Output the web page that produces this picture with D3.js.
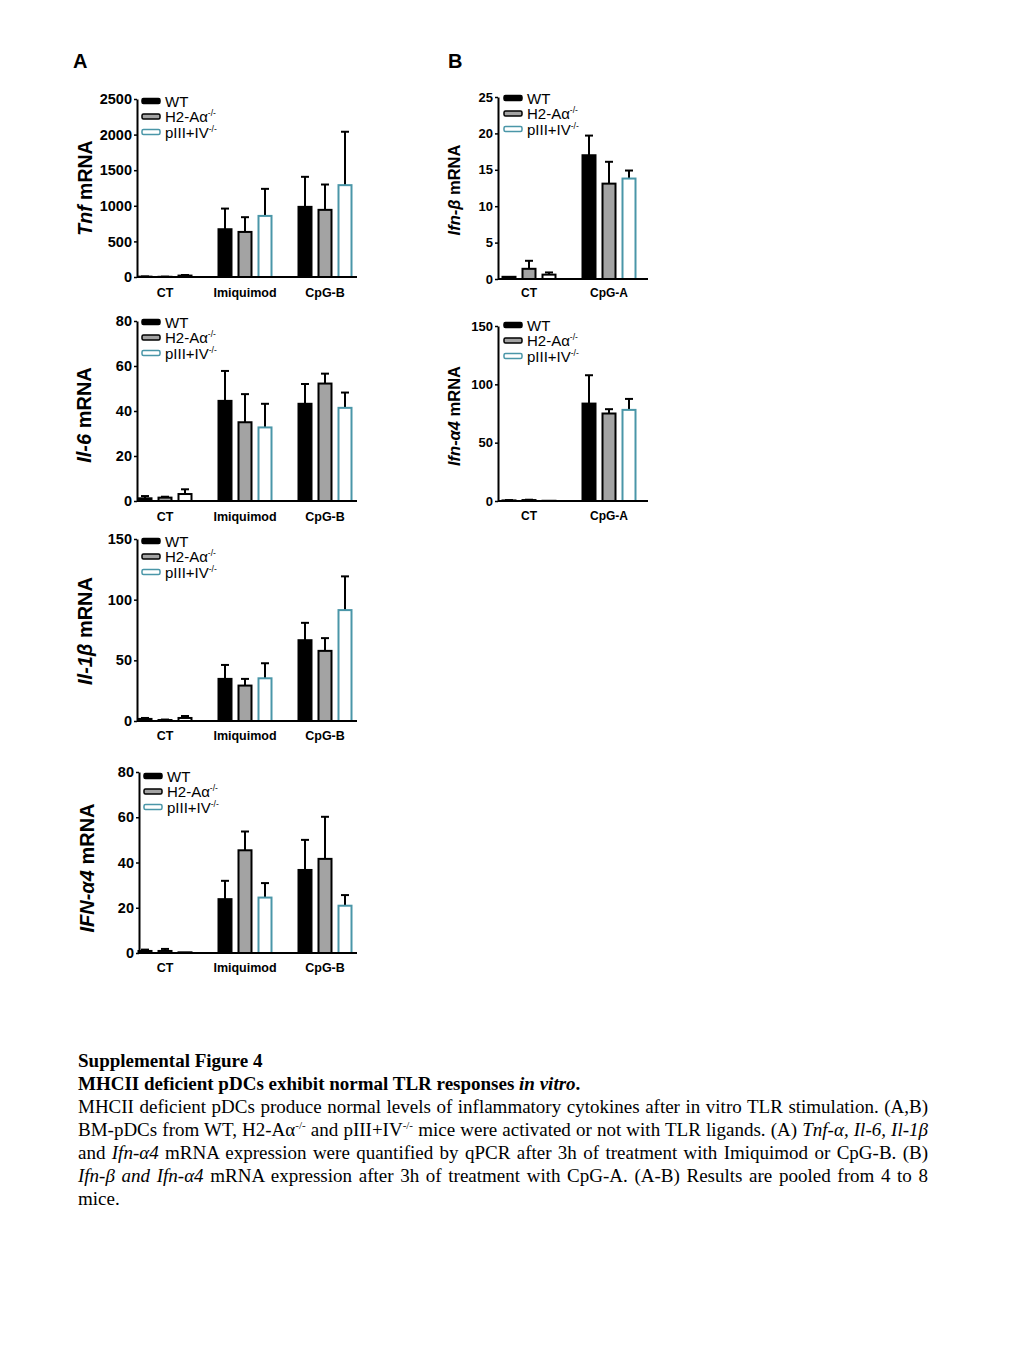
<!DOCTYPE html>
<html><head><meta charset="utf-8">
<script src="https://cdn.jsdelivr.net/npm/d3@7"></script>
<style>
body{margin:0;background:#fff;}
#wrap{position:relative;width:1024px;height:1365px;background:#fff;}
svg{position:absolute;left:0;top:0}
#cap{position:absolute;left:78px;top:1049px;width:850px;font-family:"Liberation Serif","Times New Roman",serif;font-size:19px;line-height:23px;color:#000}
#cap .l{white-space:nowrap;text-align:justify;text-align-last:justify}
#cap .last{white-space:nowrap;text-align:left}
#cap sup{font-size:11px;vertical-align:7px;line-height:0}
</style></head><body>
<div id="wrap">
<svg id="chart" width="1024" height="1365"></svg>
<div id="cap">
<div class="last"><b>Supplemental Figure 4</b></div>
<div class="last"><b>MHCII deficient pDCs exhibit normal TLR responses <i>in vitro</i>.</b></div>
<div class="l">MHCII deficient pDCs produce normal levels of inflammatory cytokines after in vitro TLR stimulation. (A,B)</div>
<div class="l">BM-pDCs from WT, H2-Aα<sup>-/-</sup> and pIII+IV<sup>-/-</sup> mice were activated or not with TLR ligands. (A) <i>Tnf-α, Il-6, Il-1β</i></div>
<div class="l">and <i>Ifn-α4</i> mRNA expression were quantified by qPCR after 3h of treatment with Imiquimod or CpG-B. (B)</div>
<div class="l"><i>Ifn-β and Ifn-α4</i> mRNA expression after 3h of treatment with CpG-A. (A-B) Results are pooled from 4 to 8</div>
<div class="last">mice.</div>
</div>
</div>
<script>
// ---------- DATA ----------
const seriesNames = ["WT", "H2-Aα", "pIII+IV"];
const groupsA = ["CT", "Imiquimod", "CpG-B"];
const groupsB = ["CT", "CpG-A"];

const ticksTnf = [0, 500, 1000, 1500, 2000, 2500];
const ticks80 = [0, 20, 40, 60, 80];
const ticks150 = [0, 50, 100, 150];
const ticks25 = [0, 5, 10, 15, 20, 25];

// Tnf (A)
const tnfWT = [5, 671, 985];      const tnfWTerr = [3, 290, 422];
const tnfH2 = [3, 633, 943];      const tnfH2err = [2, 207, 356];
const tnfP  = [20, 858, 1290];    const tnfPerr  = [8, 380, 750];
// Il-6 (A)
const il6WT = [1.2, 44.5, 43.2];  const il6WTerr = [1.0, 13.3, 8.8];
const il6H2 = [1.5, 35.0, 52.2];  const il6H2err = [0.4, 12.5, 4.4];
const il6P  = [3.1, 32.7, 41.4];  const il6Perr  = [2.1, 10.5, 6.8];
// Il-1b (A)
const il1WT = [1.7, 34.7, 66.6];  const il1WTerr = [0.8, 11.5, 14.3];
const il1H2 = [0.8, 29.2, 57.8];  const il1H2err = [0.4, 5.5, 10.5];
const il1P  = [2.5, 35.2, 91.4];  const il1Perr  = [1.6, 12.4, 27.8];
// IFN-a4 (A)
const ifnaAWT = [0.9, 23.8, 36.7]; const ifnaAWTerr = [0.6, 8.1, 13.3];
const ifnaAH2 = [0.9, 45.4, 41.6]; const ifnaAH2err = [0.9, 8.3, 18.6];
const ifnaAP  = [0.3, 24.5, 20.9]; const ifnaAPerr  = [0.0, 6.4, 4.7];
// Ifn-b (B)
const ifnbWT = [0.3, 17.0];       const ifnbWTerr = [0.0, 2.7];
const ifnbH2 = [1.4, 13.1];       const ifnbH2err = [1.1, 3.0];
const ifnbP  = [0.6, 13.8];       const ifnbPerr  = [0.3, 1.1];
// Ifn-a4 (B)
const ifnaBWT = [0.5, 83.5];      const ifnaBWTerr = [0.3, 24.3];
const ifnaBH2 = [0.8, 75.0];      const ifnaBH2err = [0.3, 3.7];
const ifnaBP  = [0.2, 78.1];      const ifnaBPerr  = [0.0, 9.4];

// ---------- STYLE ----------
const GRAY = "#a3a3a3", TEAL = "#4a96a8";
const FONT = "'Liberation Sans', Arial, Helvetica, sans-serif";

const svg = d3.select("#chart");
svg.append("rect").attr("width", 1024).attr("height", 1365).attr("fill", "#fff");

svg.append("text").attr("x", 73).attr("y", 68).attr("font-family", FONT)
  .attr("font-weight", "bold").attr("font-size", 20).text("A");
svg.append("text").attr("x", 448).attr("y", 68).attr("font-family", FONT)
  .attr("font-weight", "bold").attr("font-size", 20).text("B");

const panels = [
  { groups: groupsA, ticks: ticksTnf, means: [tnfWT, tnfH2, tnfP], errs: [tnfWTerr, tnfH2err, tnfPerr],
    ax: 137, xEnd: 357, gx0: 125, y0: 277, yTop: 99, tickFs: 14.5, labFs: 12.5, labDy: 23,
    leg: [141, 101], legFs: 15, title: [["Tnf", true], [" mRNA", false]], titleX: 92, titleY: 188, titleFs: 19.5 },
  { groups: groupsA, ticks: ticks80, means: [il6WT, il6H2, il6P], errs: [il6WTerr, il6H2err, il6Perr],
    ax: 137, xEnd: 357, gx0: 125, y0: 501, yTop: 321, tickFs: 14.5, labFs: 12.5, labDy: 23,
    leg: [141, 322], legFs: 15, title: [["Il-6", true], [" mRNA", false]], titleX: 91, titleY: 415, titleFs: 20 },
  { groups: groupsA, ticks: ticks150, means: [il1WT, il1H2, il1P], errs: [il1WTerr, il1H2err, il1Perr],
    ax: 137, xEnd: 357, gx0: 125, y0: 721, yTop: 539, tickFs: 14.5, labFs: 12.5, labDy: 22,
    leg: [141, 541], legFs: 15, title: [["Il-1β", true], [" mRNA", false]], titleX: 92, titleY: 631, titleFs: 20 },
  { groups: groupsA, ticks: ticks80, means: [ifnaAWT, ifnaAH2, ifnaAP], errs: [ifnaAWTerr, ifnaAH2err, ifnaAPerr],
    ax: 139, xEnd: 357, gx0: 125, y0: 953, yTop: 772, tickFs: 14.5, labFs: 12.5, labDy: 22,
    leg: [143, 776], legFs: 15, title: [["IFN-α4", true], [" mRNA", false]], titleX: 94, titleY: 868, titleFs: 20 },
  { groups: groupsB, ticks: ticks25, means: [ifnbWT, ifnbH2, ifnbP], errs: [ifnbWTerr, ifnbH2err, ifnbPerr],
    ax: 498, xEnd: 648, gx0: 489, y0: 279, yTop: 97, tickFs: 13, labFs: 12, labDy: 21,
    leg: [503, 98], legFs: 15, title: [["Ifn-β", true], [" mRNA", false]], titleX: 460, titleY: 190, titleFs: 16.5 },
  { groups: groupsB, ticks: ticks150, means: [ifnaBWT, ifnaBH2, ifnaBP], errs: [ifnaBWTerr, ifnaBH2err, ifnaBPerr],
    ax: 498, xEnd: 648, gx0: 489, y0: 501, yTop: 326, tickFs: 13, labFs: 12, labDy: 22,
    leg: [503, 325], legFs: 15, title: [["Ifn-α4", true], [" mRNA", false]], titleX: 460, titleY: 416, titleFs: 16.5 }
];

function fillFor(si) { return si === 0 ? "#000" : si === 1 ? GRAY : "#fff"; }
function strokeFor(si, group) { return si === 2 && group !== "CT" ? TEAL : "#000"; }

panels.forEach(p => {
  const g = svg.append("g");
  const y = d3.scaleLinear().domain([0, p.ticks[p.ticks.length - 1]]).range([p.y0, p.yTop]);
  const xg = d3.scaleBand().domain(p.groups).range([p.gx0, p.gx0 + 80 * p.groups.length]);
  const xs = d3.scaleBand().domain(seriesNames).range([-30, 30]).paddingInner(0.35).paddingOuter(0.175);

  // bars + error bars
  p.groups.forEach((grp, gi) => {
    seriesNames.forEach((s, si) => {
      const v = p.means[si][gi], e = p.errs[si][gi];
      const x = xg(grp) + xg.bandwidth() / 2 + xs(s);
      const cx = x + xs.bandwidth() / 2;
      if (e > 0) {
        g.append("line").attr("x1", cx).attr("x2", cx).attr("y1", y(v)).attr("y2", y(v + e))
          .attr("stroke", "#000").attr("stroke-width", 2);
        g.append("line").attr("x1", cx - 4).attr("x2", cx + 4).attr("y1", y(v + e)).attr("y2", y(v + e))
          .attr("stroke", "#000").attr("stroke-width", 2);
      }
      g.append("rect").attr("x", x).attr("width", xs.bandwidth())
        .attr("y", y(v)).attr("height", Math.max(0, y(0) - y(v)))
        .attr("fill", fillFor(si)).attr("stroke", strokeFor(si, grp)).attr("stroke-width", 2);
    });
  });

  // y axis
  const ya = g.append("g").attr("transform", `translate(${p.ax},0)`)
    .call(d3.axisLeft(y).tickValues(p.ticks).tickSize(3).tickSizeOuter(0).tickPadding(2).tickFormat(d3.format("d")));
  ya.select(".domain").attr("stroke-width", 2);
  ya.selectAll(".tick line").attr("stroke-width", 1.5);
  ya.selectAll("text").attr("font-family", FONT).attr("font-weight", "bold").attr("font-size", p.tickFs).attr("fill", "#000");

  // x axis baseline
  g.append("line").attr("x1", p.ax).attr("x2", p.xEnd).attr("y1", p.y0).attr("y2", p.y0)
    .attr("stroke", "#000").attr("stroke-width", 2);
  const xa = g.append("g").attr("transform", `translate(0,${p.y0 + p.labDy - 12})`)
    .call(d3.axisBottom(xg).tickSize(0).tickPadding(0));
  xa.select(".domain").remove();
  xa.selectAll("text").attr("font-family", FONT).attr("font-weight", "bold").attr("font-size", p.labFs).attr("fill", "#000");

  // legend
  seriesNames.forEach((s, si) => {
    const ly = p.leg[1] + si * 15.5;
    g.append("rect").attr("x", p.leg[0] + 1).attr("y", ly - 2.5).attr("width", 18).attr("height", 5).attr("rx", 1.5)
      .attr("fill", fillFor(si)).attr("stroke", si === 2 ? TEAL : "#000").attr("stroke-width", 1.5);
    const t = g.append("text").attr("x", p.leg[0] + 24).attr("y", ly + 5.5)
      .attr("font-family", FONT).attr("font-size", p.legFs).attr("fill", "#000");
    t.append("tspan").text(s);
    if (si > 0) t.append("tspan").attr("dy", -6).attr("font-size", 8.5).text("-/-");
  });

  // title
  const tt = g.append("text").attr("transform", `translate(${p.titleX},${p.titleY}) rotate(-90)`)
    .attr("text-anchor", "middle").attr("font-family", FONT).attr("font-weight", "bold")
    .attr("font-size", p.titleFs).attr("fill", "#000");
  p.title.forEach(([txt, it]) => tt.append("tspan").attr("font-style", it ? "italic" : "normal").text(txt));
});
</script>
</body></html>
